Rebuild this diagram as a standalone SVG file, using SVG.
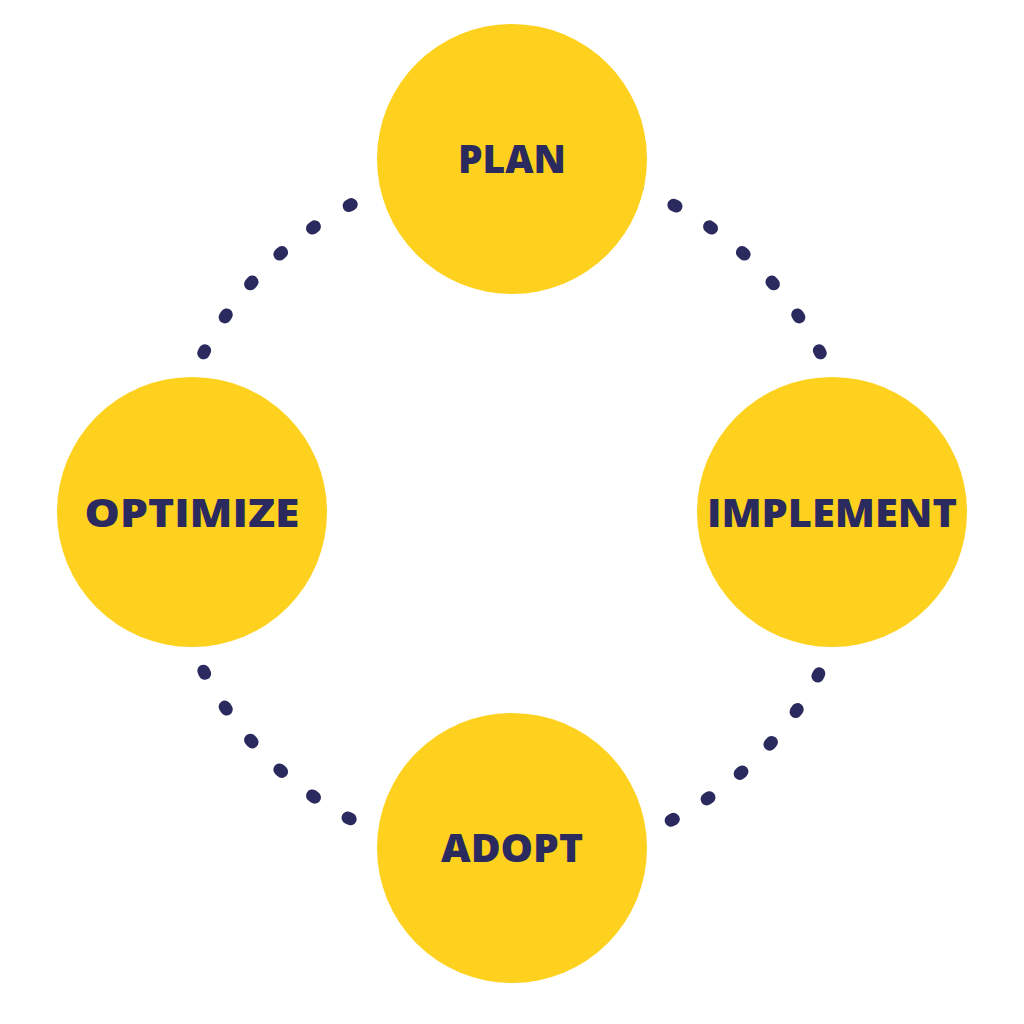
<svg xmlns="http://www.w3.org/2000/svg" xmlns:xlink="http://www.w3.org/1999/xlink" width="1024" height="1024" viewBox="0 0 1024 1024">
<style>
.node{fill:#FDD11D}
.lbl{font-family:"Open Sans","Liberation Sans",sans-serif;font-weight:800;font-size:39px;fill:#2A2A5E;text-anchor:middle}
.dot{stroke:#2A2A5E;stroke-width:12.5;stroke-linecap:round;fill:none}
</style>
<defs>
<line id="d" class="dot" x1="859" y1="510.5" x2="859" y2="513.5"/>
</defs>
<rect width="1024" height="1024" fill="#FFFFFF"/>
<g id="connectors">
<g id="arc-plan-implement">
<use xlink:href="#d" transform="rotate(-27.5 512 512)"/>
<use xlink:href="#d" transform="rotate(-34.4 512 512)"/>
<use xlink:href="#d" transform="rotate(-41.3 512 512)"/>
<use xlink:href="#d" transform="rotate(-48.2 512 512)"/>
<use xlink:href="#d" transform="rotate(-55.1 512 512)"/>
<use xlink:href="#d" transform="rotate(-62 512 512)"/>
<use xlink:href="#d" transform="rotate(-69.1 512 512)"/>
</g>
<g id="arc-implement-adopt">
<use xlink:href="#d" transform="rotate(28 512 512)"/>
<use xlink:href="#d" transform="rotate(34.9 512 512)"/>
<use xlink:href="#d" transform="rotate(41.8 512 512)"/>
<use xlink:href="#d" transform="rotate(48.7 512 512)"/>
<use xlink:href="#d" transform="rotate(55.6 512 512)"/>
<use xlink:href="#d" transform="rotate(62.5 512 512)"/>
</g>
<g id="arc-adopt-optimize">
<use xlink:href="#d" transform="rotate(118 512 512)"/>
<use xlink:href="#d" transform="rotate(124.9 512 512)"/>
<use xlink:href="#d" transform="rotate(131.8 512 512)"/>
<use xlink:href="#d" transform="rotate(138.7 512 512)"/>
<use xlink:href="#d" transform="rotate(145.6 512 512)"/>
<use xlink:href="#d" transform="rotate(152.5 512 512)"/>
</g>
<g id="arc-optimize-plan">
<use xlink:href="#d" transform="rotate(-152.5 512 512)"/>
<use xlink:href="#d" transform="rotate(-145.6 512 512)"/>
<use xlink:href="#d" transform="rotate(-138.7 512 512)"/>
<use xlink:href="#d" transform="rotate(-131.8 512 512)"/>
<use xlink:href="#d" transform="rotate(-124.9 512 512)"/>
<use xlink:href="#d" transform="rotate(-117.8 512 512)"/>
</g>
</g>
<g id="node-plan">
<circle class="node" cx="512" cy="159" r="135"/>
<text class="lbl" x="512" y="173" textLength="108" lengthAdjust="spacingAndGlyphs">PLAN</text>
</g>
<g id="node-implement">
<circle class="node" cx="832" cy="512" r="135"/>
<text class="lbl" x="832" y="527" textLength="250" lengthAdjust="spacingAndGlyphs">IMPLEMENT</text>
</g>
<g id="node-adopt">
<circle class="node" cx="512" cy="848" r="135"/>
<text class="lbl" x="512" y="862" textLength="142" lengthAdjust="spacingAndGlyphs">ADOPT</text>
</g>
<g id="node-optimize">
<circle class="node" cx="192" cy="512" r="135"/>
<text class="lbl" x="192" y="527" textLength="215" lengthAdjust="spacingAndGlyphs">OPTIMIZE</text>
</g>
</svg>
